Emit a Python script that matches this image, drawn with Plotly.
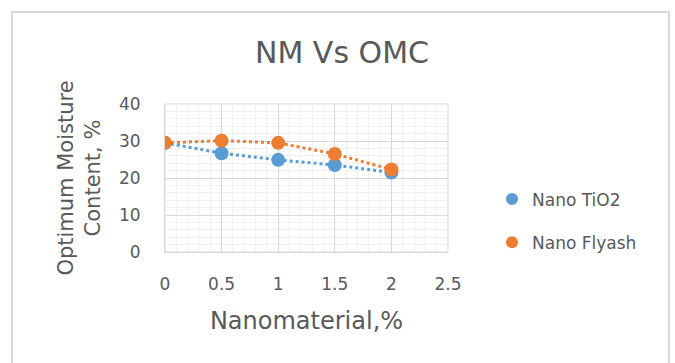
import plotly.graph_objects as go

# Nanomaterial content (%) and optimum moisture content (%)
nano_pct = [0, 0.5, 1, 1.5, 2]
omc_tio2 = [29.5, 26.7, 24.9, 23.5, 21.5]
omc_flyash = [29.5, 30.1, 29.5, 26.5, 22.3]

series = [
    ("Nano TiO2", omc_tio2, "#5b9bd5"),
    ("Nano Flyash", omc_flyash, "#ed7d31"),
]

W, H = 675, 363
L, R, T, B = 165, 448, 104, 252  # plot area in pixels


def px_x(p):
    return (p - L) / (R - L)


def px_y(p):
    return (B - p) / (B - T)


fig = go.Figure()
for name, vals, color in series:
    fig.add_trace(go.Scatter(
        x=nano_pct, y=vals, mode="lines",
        line=dict(color=color, width=3, dash="dot"),
        showlegend=False, hoverinfo="skip",
    ))
for name, vals, color in series:
    fig.add_trace(go.Scatter(
        x=nano_pct, y=vals, mode="markers", name=name,
        marker=dict(color=color, size=14),
        legendgroup=name,
    ))

font_family = "DejaVu Sans, sans-serif"
grey = "#595959"

fig.update_layout(
    width=W, height=H,
    margin=dict(l=L, r=W - R, t=T, b=H - B),
    paper_bgcolor="white", plot_bgcolor="white",
    font=dict(family=font_family, color=grey),
    title=dict(text="NM Vs OMC", x=(342 - L) / (R - L), xref="paper",
               xanchor="center", y=1 - 52 / H, yanchor="middle",
               font=dict(size=30, color=grey)),
    showlegend=True,
    legend=dict(x=px_x(492), y=px_y(221), xanchor="left", yanchor="middle",
                font=dict(size=17, color=grey), tracegroupgap=18,
                itemsizing="constant"),
    xaxis=dict(
        range=[0, 2.5], dtick=0.5,
        showgrid=True, gridcolor="#d9d9d9", gridwidth=1,
        minor=dict(dtick=0.1, showgrid=True, gridcolor="#f0f0f0", gridwidth=1),
        showline=True, linecolor="#d9d9d9",
        zeroline=False, ticks="", tickfont=dict(size=17, color=grey),
        ticklabelstandoff=17,
        title=dict(text="Nanomaterial,%", font=dict(size=24, color=grey),
                   standoff=18),
    ),
    yaxis=dict(
        range=[0, 40], dtick=10,
        showgrid=True, gridcolor="#d9d9d9", gridwidth=1,
        minor=dict(dtick=2, showgrid=True, gridcolor="#f0f0f0", gridwidth=1),
        showline=True, linecolor="#d9d9d9",
        zeroline=False, ticks="", tickfont=dict(size=17, color=grey),
        ticklabelstandoff=20,
        title=dict(text="Optimum Moisture<br>Content, %",
                   font=dict(size=21, color=grey), standoff=12),
    ),
)

# right and top edges of the plot area
fig.add_shape(type="rect", xref="paper", yref="paper", x0=0, x1=1, y0=0, y1=1,
              line=dict(color="#d9d9d9", width=1), layer="below")

# chart frame
fig.add_shape(type="rect", xref="paper", yref="paper",
              x0=px_x(12), x1=px_x(669), y0=px_y(12), y1=px_y(375),
              line=dict(color="#d9d9d9", width=2))

fig.write_html("out.html")
